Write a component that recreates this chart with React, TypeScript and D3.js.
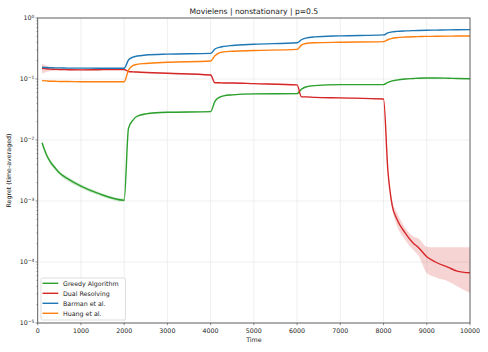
import React from 'react';
import * as d3 from 'd3';

// sample times (shared by all four runs)
const times = [100, 200, 300, 400, 500, 700, 1000, 1400, 2000, 2100, 2200, 2300, 2500, 3000, 4000,
  4100, 4200, 4300, 4500, 5000, 6000, 6100, 6200, 6400, 7000, 8000, 8100, 8200, 8300, 8500, 8700,
  8800, 9000, 9200, 9500, 9700, 10000];

const greedy = [0.009, 0.0058, 0.0043, 0.0035, 0.0029, 0.0023, 0.00175, 0.00133, 0.00103, 0.0155, 0.021,
  0.0245, 0.0268, 0.0285, 0.0292, 0.043, 0.05, 0.053, 0.055, 0.057, 0.0575, 0.068, 0.074, 0.078, 0.081,
  0.081, 0.088, 0.093, 0.096, 0.1, 0.102, 0.103, 0.104, 0.104, 0.103, 0.102, 0.101];
const greedyLo = [0.0082, 0.0053, 0.0039, 0.0032, 0.0027, 0.0021, 0.00162, 0.00124, 0.00097, 0.015, 0.0204,
  0.0238, 0.026, 0.0277, 0.0284, 0.042, 0.0488, 0.0518, 0.0538, 0.0558, 0.0563, 0.0666, 0.0725, 0.0765, 0.0795,
  0.0795, 0.0864, 0.0913, 0.0943, 0.0983, 0.1003, 0.1013, 0.1023, 0.1023, 0.1013, 0.1003, 0.0993];
const greedyHi = [0.0098, 0.0063, 0.0047, 0.0038, 0.0031, 0.0025, 0.00188, 0.00142, 0.0011, 0.016, 0.0216,
  0.0252, 0.0276, 0.0293, 0.03, 0.044, 0.0512, 0.0542, 0.0562, 0.0582, 0.0587, 0.0694, 0.0755, 0.0795, 0.0825,
  0.0825, 0.0896, 0.0947, 0.0977, 0.1017, 0.1037, 0.1047, 0.1057, 0.1057, 0.1047, 0.1037, 0.1027];

const dual = [0.15, 0.147, 0.145, 0.144, 0.143, 0.142, 0.141, 0.142, 0.143, 0.133, 0.131, 0.13, 0.128,
  0.124, 0.116, 0.087, 0.087, 0.086, 0.086, 0.084, 0.08, 0.051, 0.051, 0.05, 0.049, 0.047, 0.0032,
  0.00085, 0.00052, 0.0003, 0.0002, 0.000175, 0.000122, 0.0001, 0.0000815, 0.000071, 0.0000665];
const dualLo = [0.122, 0.13, 0.135, 0.137, 0.138, 0.139, 0.138, 0.139, 0.14, 0.13, 0.128, 0.127, 0.125,
  0.121, 0.113, 0.085, 0.085, 0.084, 0.084, 0.082, 0.078, 0.05, 0.05, 0.049, 0.048, 0.046, 0.0029,
  0.00075, 0.00041, 0.00023, 0.000155, 0.00013, 0.000066, 0.000056, 0.000048, 0.00004, 0.000031];
const dualHi = [0.18, 0.165, 0.157, 0.152, 0.149, 0.146, 0.144, 0.145, 0.146, 0.136, 0.134, 0.133, 0.131,
  0.127, 0.119, 0.089, 0.089, 0.088, 0.088, 0.086, 0.082, 0.052, 0.052, 0.051, 0.05, 0.048, 0.0036,
  0.00097, 0.00067, 0.00036, 0.00026, 0.000245, 0.000178, 0.000174, 0.000174, 0.000175, 0.000174];

const barman = [0.156, 0.154, 0.153, 0.152, 0.152, 0.151, 0.151, 0.15, 0.15, 0.205, 0.228, 0.238, 0.247,
  0.256, 0.263, 0.31, 0.33, 0.342, 0.355, 0.372, 0.392, 0.44, 0.468, 0.49, 0.51, 0.528, 0.57, 0.592,
  0.603, 0.615, 0.622, 0.625, 0.63, 0.633, 0.638, 0.641, 0.645];

const huang = [0.094, 0.093, 0.092, 0.092, 0.091, 0.091, 0.09, 0.09, 0.09, 0.14, 0.166, 0.174, 0.18,
  0.188, 0.197, 0.24, 0.268, 0.278, 0.285, 0.293, 0.306, 0.36, 0.382, 0.392, 0.4, 0.41, 0.44, 0.463,
  0.475, 0.487, 0.493, 0.495, 0.499, 0.501, 0.504, 0.506, 0.507];

const xTicks = [0, 1000, 2000, 3000, 4000, 5000, 6000, 7000, 8000, 9000, 10000];
const yExps = [0, -1, -2, -3, -4, -5];

const series = [
  { name: 'Greedy Algorithm', color: '#2ca02c', values: greedy, lo: greedyLo, hi: greedyHi },
  { name: 'Dual Resolving', color: '#d62728', values: dual, lo: dualLo, hi: dualHi },
  { name: 'Barman et al.', color: '#1f77b4', values: barman, lo: null, hi: null },
  { name: 'Huang et al.', color: '#ff7f0e', values: huang, lo: null, hi: null },
];

const W = 488, H = 352;
const left = 37.7, right = 470, top = 18, bottom = 323;
const font = 'DejaVu Sans, sans-serif';

export default function App() {
  const x = d3.scaleLinear().domain([0, 10000]).range([left, right]);
  const y = d3.scaleLog().domain([1e-5, 1]).range([bottom, top]);

  const line = (vals: number[]) =>
    d3.line<number>().x((_, i) => x(times[i])).y(d => y(d)).curve(d3.curveMonotoneX)(vals) || '';
  const area = (lo: number[], hi: number[]) =>
    d3.area<number>().x((_, i) => x(times[i])).y0((_, i) => y(lo[i])).y1((_, i) => y(hi[i]))
      .curve(d3.curveMonotoneX)(times) || '';

  const minor: number[] = [];
  for (let e = -5; e < 0; e++) for (let k = 2; k <= 9; k++) minor.push(k * Math.pow(10, e));

  return (
    <svg width={W} height={H} style={{ position: 'absolute', left: 0, top: 0 }} fontFamily={font}>
      <rect width={W} height={H} fill="#fff" />
      {/* grid */}
      <g stroke="#e8e8e8" strokeWidth={0.7}>
        {xTicks.map(t => <line key={'gx' + t} x1={x(t)} x2={x(t)} y1={top} y2={bottom} />)}
        {yExps.map(e => <line key={'gy' + e} x1={left} x2={right} y1={y(Math.pow(10, e))} y2={y(Math.pow(10, e))} />)}
      </g>
      {/* bands */}
      {series.map(s => s.lo && s.hi ? (
        <path key={'b' + s.name} d={area(s.lo, s.hi)} fill={s.color} fillOpacity={0.2} stroke="none" />
      ) : null)}
      {/* lines */}
      {series.map(s => (
        <path key={'l' + s.name} d={line(s.values)} fill="none" stroke={s.color} strokeWidth={1.4} />
      ))}
      {/* frame */}
      <rect x={left} y={top} width={right - left} height={bottom - top} fill="none" stroke="#555" strokeWidth={0.9} />
      {/* x axis */}
      <g fontSize={6.3} fill="#222" textAnchor="middle">
        {xTicks.map(t => (
          <g key={'xt' + t}>
            <line x1={x(t)} x2={x(t)} y1={bottom} y2={bottom + 2.2} stroke="#444" strokeWidth={0.6} />
            <text x={x(t)} y={bottom + 9.5}>{t}</text>
          </g>
        ))}
      </g>
      <text x={(left + right) / 2} y={342} fontSize={6.3} textAnchor="middle" fill="#222">Time</text>
      {/* y axis */}
      <g fontSize={6.3} fill="#222" textAnchor="end">
        {yExps.map(e => (
          <g key={'yt' + e}>
            <line x1={left - 2.2} x2={left} y1={y(Math.pow(10, e))} y2={y(Math.pow(10, e))} stroke="#444" strokeWidth={0.6} />
            <text x={left - 3.5} y={y(Math.pow(10, e)) + 2.2}>
              10<tspan fontSize={4.4} dy={-2.6}>{e === 0 ? '0' : '\u2212' + (-e)}</tspan>
            </text>
          </g>
        ))}
        {minor.map(v => (
          <line key={'mn' + v} x1={left - 1.3} x2={left} y1={y(v)} y2={y(v)} stroke="#444" strokeWidth={0.5} />
        ))}
      </g>
      <text transform={`translate(11,${(top + bottom) / 2}) rotate(-90)`} fontSize={6.3} textAnchor="middle" fill="#222">
        Regret (time-averaged)
      </text>
      {/* title */}
      <text x={(left + right) / 2} y={14} fontSize={7.6} textAnchor="middle" fill="#222">
        Movielens | nonstationary | p=0.5
      </text>
      {/* legend */}
      <g>
        <rect x={41} y={278} width={84.5} height={42} rx={1.5} fill="#fff" fillOpacity={0.85} stroke="#d0d0d0" strokeWidth={0.7} />
        {series.map((s, i) => (
          <g key={'lg' + s.name} transform={`translate(0,${283.3 + i * 10})`}>
            <line x1={42.5} x2={58.3} y1={0} y2={0} stroke={s.color} strokeWidth={1.4} />
            <text x={63} y={2.2} fontSize={6.3} fill="#222">{s.name}</text>
          </g>
        ))}
      </g>
    </svg>
  );
}
